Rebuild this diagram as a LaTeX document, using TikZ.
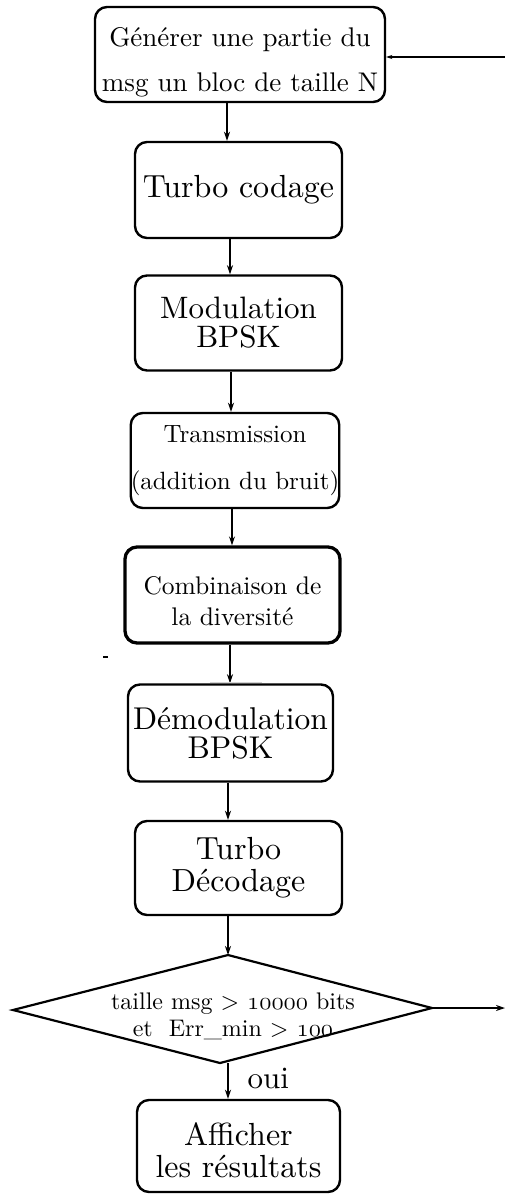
\documentclass[tikz,border=0pt]{standalone}
\usepackage{fontspec}
% use the 10pt design of Latin Modern at every size (heavier strokes)
\IfFontExistsTF{lmroman10-regular.otf}
  {\setmainfont{lmroman10-regular.otf}[Ligatures=TeX]}
  {}
\usetikzlibrary{arrows.meta}
% old-style figures taken from the math italic font
\newcommand\osn[1]{$\mathnormal{#1}$}
\newcommand\fs[2]{\fontsize{#1}{#2}\selectfont}
\begin{document}
\begin{tikzpicture}[x=1pt,y=-1pt,
  stepbox/.style={draw, line width=2.4pt, rounded corners=12pt, inner sep=0pt, align=center},
  label/.style={inner sep=0pt, align=center},
  arr/.style={line width=1.8pt, -{Stealth[length=9pt,width=6pt]}},
]
\useasboundingbox (0,0) rectangle (505,1195);

\node[stepbox, minimum width=290pt, minimum height=95pt] (b1) at (240,54.5) {};
\node[label, font=\fs{27}{45}] (t1) at (240,62) {Générer une partie du\\msg un bloc de taille N};
\node[stepbox, minimum width=207pt, minimum height=96pt, font=\fs{32}{34}] (b2) at (238.5,190)
  {Turbo codage};
\node[stepbox, minimum width=207pt, minimum height=95pt, font=\fs{31}{29}] (b3) at (238.5,323)
  {Modulation\\BPSK};
\node[stepbox, minimum width=206pt, minimum height=95pt, font=\fs{25}{47}] (b4) at (235,460.5)
  {Transmission\\(addition du bruit)};
\node[stepbox, line width=3.3pt, minimum width=215pt, minimum height=96pt] (b5) at (232.5,595) {};
\node[label, font=\fs{25.5}{31}] (t5) at (232.5,601) {Combinaison de\\la diversité};
\node[stepbox, minimum width=205pt, minimum height=97pt, font=\fs{31.5}{29}] (b6) at (230.5,733)
  {Démodulation\\BPSK};
\node[stepbox, minimum width=207pt, minimum height=94pt, font=\fs{32}{32}] (b7) at (238.5,868)
  {Turbo\\Décodage};
\node[stepbox, minimum width=203pt, minimum height=92pt] (b9) at (238.5,1146) {};
\node[label, font=\fs{32}{32}] (t9) at (238.5,1150) {Afficher\\les résultats};

% decision diamond
\coordinate (dt) at (228,955);
\coordinate (dl) at (13,1010);
\coordinate (dr) at (432,1008);
\coordinate (db) at (220,1063);
\draw[line width=2.2pt, line join=miter] (dt) -- (dr) -- (db) -- (dl) -- cycle;
\node[label, font=\fs{24}{27}] (cond) at (233,1016)
  {taille msg > \osn{10000} bits\\et\ \ Err\_min > \osn{100}};

% vertical flow
\draw[arr] (b1.south -| 227,0) -- (b2.north -| 227,0);
\draw[arr] (b2.south -| 230,0) -- (b3.north -| 230,0);
\draw[arr] (b3.south -| 231,0) -- (b4.north -| 231,0);
\draw[arr] (b4.south -| 232,0) -- (b5.north -| 232,0);
\draw[arr] (b5.south -| 230,0) -- (b6.north -| 230,0);
\draw[arr] (b6.south -| 228,0) -- (b7.north -| 228,0);
\draw[arr] (b7.south -| 228,0) -- (dt);
\draw[arr] (db -| 228,0) -- (b9.north -| 228,0);
\node[font=\fs{31}{31}, anchor=west] (oui) at (244,1078) {oui};

% loop-back entry and exit to the right
\coordinate (fb) at (505,57);
\draw[line width=1.8pt, -{Stealth[length=6pt,width=4pt]}] (fb) -- (fb -| b1.east);
\coordinate (ex) at (505,1008);
\draw[arr] (dr) -- (ex);

% stray marks
\coordinate (m1) at (103,657);
\draw[line width=1.2pt] (m1) -- ++(5,0);
\coordinate (m2) at (210,682);
\draw[gray!35, line width=0.8pt] (m2) -- ++(52,0);
\end{tikzpicture}
\end{document}
